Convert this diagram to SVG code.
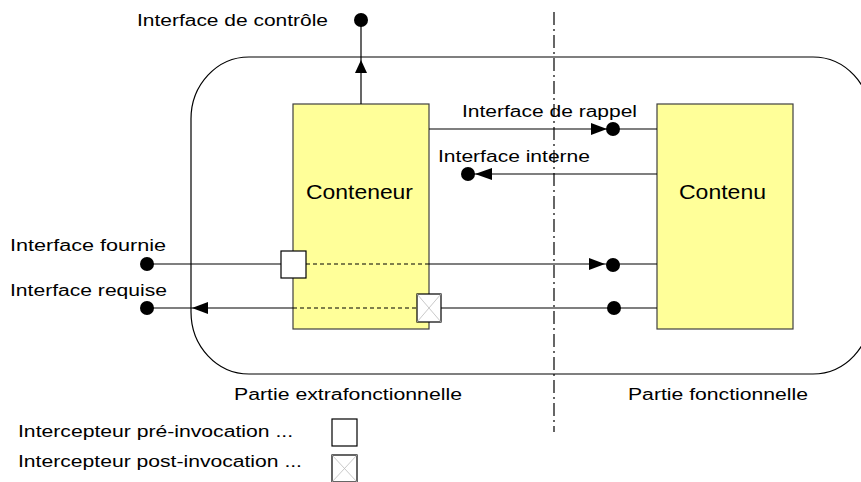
<svg xmlns="http://www.w3.org/2000/svg" width="861" height="482" viewBox="0 0 861 482">
<style>
text{font-family:"Liberation Sans",Arial,sans-serif;fill:#000;}
.s{font-size:16px;}
.b{font-size:20px;}
.ln{stroke:#000;stroke-width:1.2;fill:none;}
.dl{stroke:#000;stroke-width:1.2;fill:none;stroke-dasharray:4 3;}
.box{fill:#FFFF99;stroke:#404040;stroke-width:1.2;}
.ic{fill:#fff;stroke:#000;stroke-width:1.2;}
.x{stroke:#bbb;stroke-width:0.8;}
.dot{fill:#000;}
.ah{fill:#000;}
</style>
<rect x="0" y="0" width="861" height="482" fill="#fff"/>
<rect x="191" y="57" width="680" height="317" rx="58" ry="62" fill="none" stroke="#000" stroke-width="1.2"/>
<line x1="554" y1="12" x2="554" y2="432" stroke="#000" stroke-width="1.2" stroke-dasharray="13 4 2 4"/>
<g id="conteneur">
  <rect class="box" x="293" y="104" width="136" height="225"/>
  <text class="b" x="306" y="199" textLength="107" lengthAdjust="spacingAndGlyphs">Conteneur</text>
</g>
<g id="contenu">
  <rect class="box" x="657" y="104" width="136" height="225"/>
  <text class="b" x="679" y="199" textLength="87" lengthAdjust="spacingAndGlyphs">Contenu</text>
</g>
<g id="connectors">
  <line class="ln" x1="361" y1="104" x2="361" y2="20"/>
  <polygon class="ah" points="361,60 355,73 367,73"/>
  <circle class="dot" cx="361" cy="20" r="7"/>
  <line class="ln" x1="429" y1="129" x2="657" y2="129"/>
  <polygon class="ah" points="607,129 591,123 591,135"/>
  <circle class="dot" cx="613" cy="129" r="7"/>
  <line class="ln" x1="657" y1="174" x2="468" y2="174"/>
  <polygon class="ah" points="475,174 492,168 492,180"/>
  <circle class="dot" cx="468" cy="174" r="7"/>
  <line class="ln" x1="147" y1="264" x2="281" y2="264"/>
  <line class="dl" x1="306" y1="264" x2="429" y2="264"/>
  <line class="ln" x1="429" y1="264" x2="657" y2="264"/>
  <polygon class="ah" points="605,264 589,258 589,270"/>
  <circle class="dot" cx="613" cy="265" r="7"/>
  <circle class="dot" cx="147" cy="264" r="7"/>
  <line class="ln" x1="147" y1="308" x2="293" y2="308"/>
  <line class="dl" x1="293" y1="308" x2="417" y2="308"/>
  <line class="ln" x1="441" y1="308" x2="657" y2="308"/>
  <polygon class="ah" points="192,308 208,302 208,314"/>
  <circle class="dot" cx="147" cy="308" r="7"/>
  <circle class="dot" cx="614" cy="308" r="7"/>
</g>
<g id="pre-interceptor">
  <rect class="ic" x="281" y="251" width="25" height="27"/>
</g>
<g id="post-interceptor">
  <rect class="ic" x="417" y="294" width="24" height="28"/>
  <line class="x" x1="417" y1="294" x2="441" y2="322"/>
  <line class="x" x1="441" y1="294" x2="417" y2="322"/>
</g>
<g id="labels">
  <text class="s" x="137" y="26" textLength="191" lengthAdjust="spacingAndGlyphs">Interface de contrôle</text>
  <text class="s" x="462" y="117" textLength="175" lengthAdjust="spacingAndGlyphs">Interface de rappel</text>
  <text class="s" x="438" y="162" textLength="152" lengthAdjust="spacingAndGlyphs">Interface interne</text>
  <text class="s" x="10" y="251" textLength="156" lengthAdjust="spacingAndGlyphs">Interface fournie</text>
  <text class="s" x="10" y="296" textLength="157" lengthAdjust="spacingAndGlyphs">Interface requise</text>
  <text class="s" x="234" y="400" textLength="228" lengthAdjust="spacingAndGlyphs">Partie extrafonctionnelle</text>
  <text class="s" x="628" y="400" textLength="180" lengthAdjust="spacingAndGlyphs">Partie fonctionnelle</text>
</g>
<g id="legend">
  <text class="s" x="18" y="437" textLength="275" lengthAdjust="spacingAndGlyphs">Intercepteur pré-invocation ...</text>
  <rect class="ic" x="332" y="419" width="25" height="27"/>
  <text class="s" x="18" y="467" textLength="284" lengthAdjust="spacingAndGlyphs">Intercepteur post-invocation ...</text>
  <rect class="ic" x="332" y="455" width="25" height="27"/>
  <line class="x" x1="332" y1="455" x2="357" y2="482"/>
  <line class="x" x1="357" y1="455" x2="332" y2="482"/>
</g>
</svg>
